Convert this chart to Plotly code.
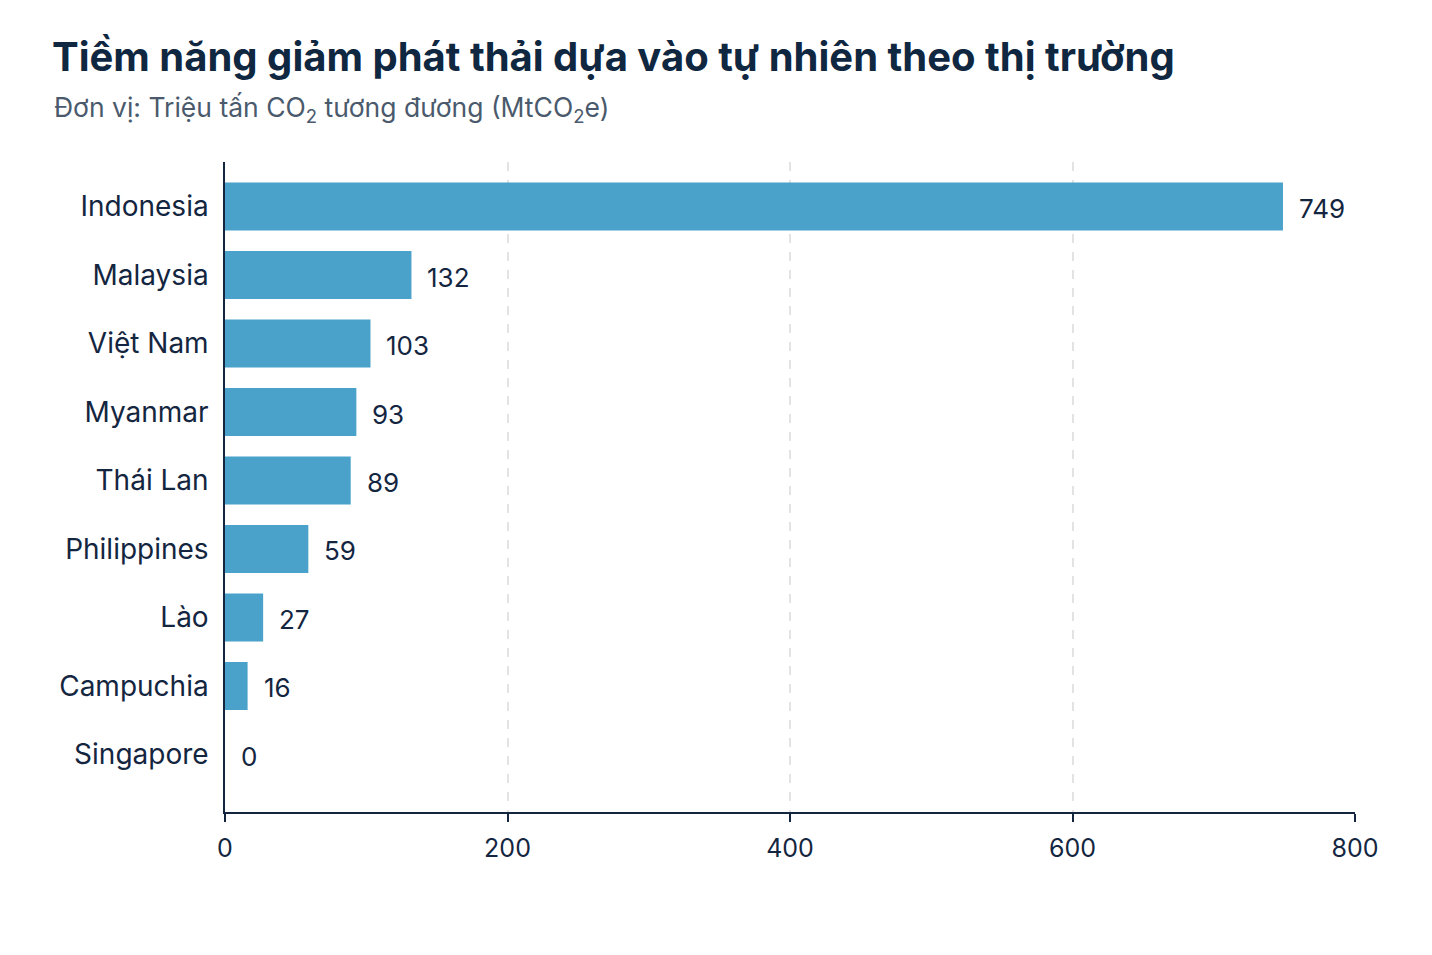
import plotly.graph_objects as go

# data
countries = ["Indonesia", "Malaysia", "Việt Nam", "Myanmar", "Thái Lan",
             "Philippines", "Lào", "Campuchia", "Singapore"]
values = [749, 132, 103, 93, 89, 59, 27, 16, 0]
x_ticks = [0, 200, 400, 600, 800]

NAVY = "#14263f"
BAR = "#4aa2cb"
W, H = 1432, 955
L, R, T, B = 217, 85, 154, 151
PW, PH = W - L - R, H - T - B

fig = go.Figure(go.Bar(
    x=values, y=countries, orientation="h",
    marker=dict(color=BAR, line=dict(width=0)),
    width=0.7, hoverinfo="x+y",
))

# value labels just right of each bar
for c, v in zip(countries, values):
    fig.add_annotation(x=v, y=c, text=str(v), showarrow=False,
                       xanchor="left", xshift=14, yshift=-2,
                       font=dict(size=26, color=NAVY, family="Inter"))

fig.update_layout(
    width=W, height=H,
    paper_bgcolor="white", plot_bgcolor="white",
    margin=dict(l=L, r=R, t=T, b=B),
    showlegend=False,
    font=dict(family="Inter", color=NAVY),
    title=dict(
        text="<b>Tiềm năng giảm phát thải dựa vào tự nhiên theo thị trường</b>",
        x=44 / W, xanchor="left", y=1 - 49 / H, yanchor="middle",
        font=dict(size=40, color="#0f2740", family="Inter"),
    ),
)

# subtitle
fig.add_annotation(
    text="Đơn vị: Triệu tấn CO<sub>2</sub> tương đương (MtCO<sub>2</sub>e)",
    xref="paper", yref="paper", x=(44 - L) / PW, y=1 + (T - 101) / PH,
    xanchor="left", yanchor="middle", showarrow=False,
    font=dict(size=26.5, color="#4a5a6c", family="Inter"),
)

fig.update_xaxes(
    range=[0, 800], tickvals=x_ticks,
    showgrid=True, gridcolor="#e3e3e3", griddash="dash", gridwidth=1.5,
    showline=True, linecolor=NAVY, linewidth=1.5,
    ticks="outside", ticklen=8, tickcolor=NAVY, tickwidth=1.5,
    ticklabelstandoff=5,
    tickfont=dict(size=25, color=NAVY), zeroline=False,
)
fig.update_yaxes(
    range=[8.84, -0.65],
    showline=True, linecolor=NAVY, linewidth=1.5,
    ticks="", ticklabelstandoff=9, showgrid=False,
    tickfont=dict(size=28, color=NAVY),
)

fig.write_html("out.html")
